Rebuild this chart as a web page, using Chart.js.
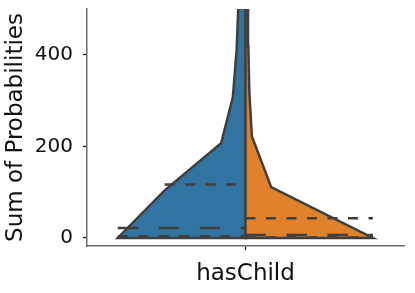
<!DOCTYPE html>
<html>
<head>
<meta charset="utf-8">
<script src="https://cdn.jsdelivr.net/npm/chart.js@4"></script>
<style>
  html, body { margin: 0; padding: 0; background: #fff; }
  #wrap { width: 415px; height: 293px; }
</style>
</head>
<body>
<div id="wrap"><canvas id="chart"></canvas></div>
<script>
// --- data ---
// half violin outlines: value (y) and half width (x, in category units)
const blueY   = [0, 104, 207, 307, 410, 520, 650];
const blueW   = [0.403, 0.255, 0.077, 0.040, 0.028, 0.022, 0.020];
const orangeY = [0, 111, 222, 320, 420, 520, 650];
const orangeW = [0.402, 0.081, 0.020, 0.012, 0.009, 0.008, 0.007];
// quartiles (q1, median, q3) and the width seaborn draws them at
const blueQ    = [4, 22, 117];
const blueQW   = [0.403, 0.403, 0.255];
const orangeQ  = [1, 6.5, 43];
const orangeQW = [0.402, 0.402, 0.402];
const yTicks = [0, 200, 400];
const category = 'hasChild';

const edgeColor = '#3f3f3f';
const textColor = '#111111';

// build a closed half violin, starting halfway up the centre line so no seam shows
function halfViolin(ys, ws, side) {
  const top = ys[ys.length - 1];
  const pts = [{x: 0, y: 300}, {x: 0, y: 0}];
  ys.forEach((y, i) => pts.push({x: side * ws[i], y: y}));
  pts.push({x: 0, y: top});
  pts.push({x: 0, y: 300});
  return pts;
}

function quartileLines(qs, ws, side) {
  return qs.map((q, i) => ({
    type: 'scatter',
    showLine: true,
    data: side < 0 ? [{x: -ws[i], y: q}, {x: 0, y: q}] : [{x: 0, y: q}, {x: ws[i], y: q}],
    borderColor: edgeColor,
    borderWidth: 2.5,
    borderDash: i === 1 ? [20.5, 20.5] : [10, 10.5],
    borderCapStyle: 'butt',
    pointRadius: 0,
    fill: false,
    order: 0
  }));
}

const datasets = [
  ...quartileLines(blueQ, blueQW, -1),
  ...quartileLines(orangeQ, orangeQW, 1),
  {
    type: 'scatter',
    showLine: true,
    data: halfViolin(orangeY, orangeW, 1),
    backgroundColor: '#e1812c',
    borderColor: edgeColor,
    borderWidth: 2.5,
    fill: 'shape',
    pointRadius: 0,
    clip: 0,
    order: 1
  },
  {
    type: 'scatter',
    showLine: true,
    data: halfViolin(blueY, blueW, -1),
    backgroundColor: '#3274a1',
    borderColor: edgeColor,
    borderWidth: 2.5,
    fill: 'shape',
    pointRadius: 0,
    clip: 0,
    order: 2
  }
];

new Chart(document.getElementById('chart'), {
  type: 'scatter',
  data: { datasets: datasets },
  options: {
    responsive: true,
    maintainAspectRatio: false,
    animation: false,
    events: [],
    layout: { padding: { top: 9, right: 11, left: 0, bottom: 0 } },
    plugins: { legend: { display: false }, tooltip: { enabled: false } },
    scales: {
      x: {
        type: 'linear',
        min: -0.5,
        max: 0.5,
        afterBuildTicks: (scale) => { scale.ticks = [{value: 0}]; },
        afterFit: (scale) => { scale.height = 47; scale.paddingLeft = 0; scale.paddingRight = 0; },
        ticks: { callback: () => '' },
        grid: { drawOnChartArea: false, drawTicks: true, tickLength: 4, tickColor: textColor, tickWidth: 1.25 },
        border: { display: true, color: '#6a6a6a', width: 1.5 },
        title: {
          display: true,
          text: category,
          color: textColor,
          font: { family: 'DejaVu Sans', size: 23 },
          padding: { top: 0, bottom: 5.5 }
        }
      },
      y: {
        type: 'linear',
        min: -17.5,
        max: 500,
        afterBuildTicks: (scale) => { scale.ticks = yTicks.map(v => ({value: v})); },
        afterFit: (scale) => { scale.width = 87; scale.paddingTop = 0; scale.paddingBottom = 0; },
        ticks: { color: textColor, padding: 10, font: { family: 'DejaVu Sans', size: 20 } },
        grid: { drawOnChartArea: false, drawTicks: true, tickLength: 4, tickColor: textColor, tickWidth: 1.25 },
        border: { display: true, color: '#6a6a6a', width: 1.5 },
        title: {
          display: true,
          text: 'Sum of Probabilities',
          color: textColor,
          font: { family: 'DejaVu Sans', size: 23 },
          padding: { top: 2, bottom: 0 }
        }
      }
    }
  }
});
</script>
</body>
</html>
